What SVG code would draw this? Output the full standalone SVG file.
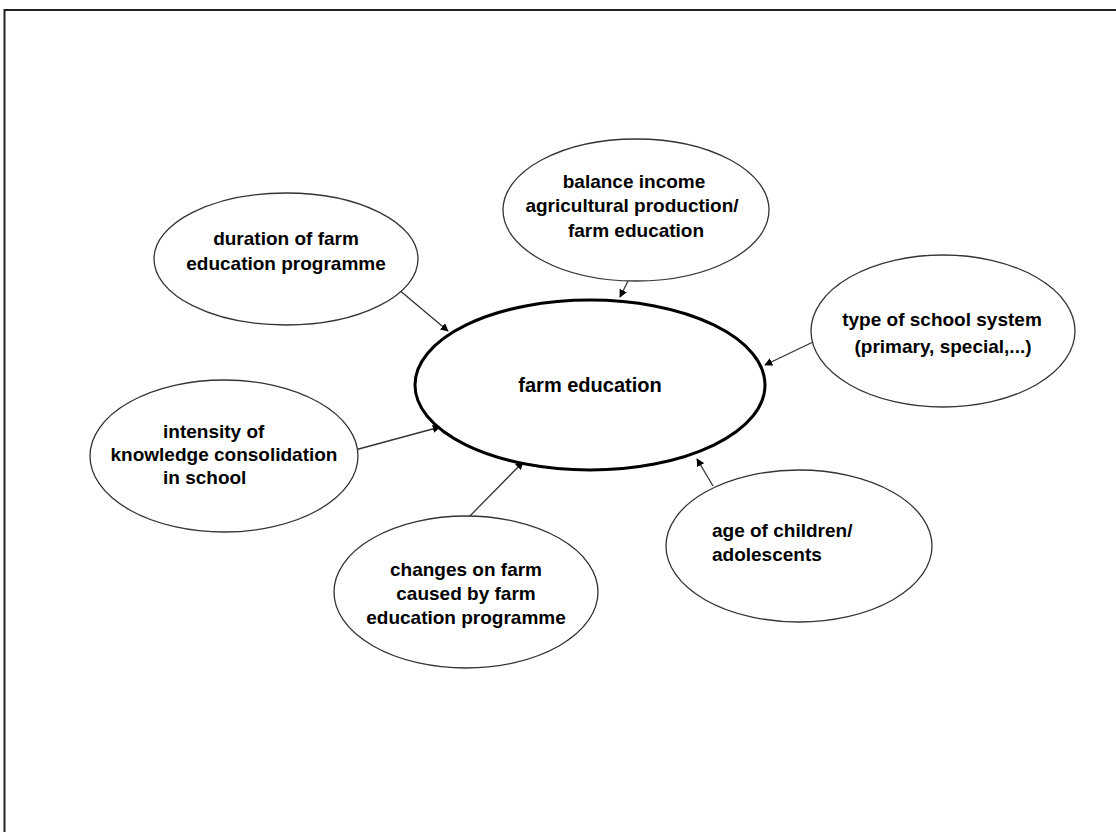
<svg xmlns="http://www.w3.org/2000/svg" width="1116" height="832" viewBox="0 0 1116 832">
<style>
.n{fill:#fff;stroke:#333;stroke-width:1.3}
.c{fill:#fff;stroke:#000;stroke-width:3}
text{font-family:"Liberation Sans",Arial,sans-serif;font-weight:bold;font-size:19px;fill:#000}
.m{text-anchor:middle}
.e{stroke:#333;stroke-width:1.3;fill:none;marker-end:url(#ah)}
</style>
<defs>
<marker id="ah" viewBox="0 0 10 10" refX="9" refY="5" markerWidth="8" markerHeight="8" markerUnits="userSpaceOnUse" orient="auto">
<path d="M0,0 L10,5 L0,10 z" fill="#000"/>
</marker>
</defs>
<rect x="0" y="0" width="1116" height="832" fill="#fff"/>
<path d="M4.5,832 V10 H1116" fill="none" stroke="#222" stroke-width="2"/>
<g id="connectors">
<line class="e" x1="398" y1="289" x2="448" y2="331"/>
<line class="e" x1="628" y1="281" x2="620" y2="297"/>
<line class="e" x1="813" y1="342" x2="765" y2="365"/>
<line class="e" x1="355" y1="450" x2="440" y2="427"/>
<line class="e" x1="467" y1="519" x2="523" y2="462"/>
<line class="e" x1="713" y1="486" x2="697" y2="459"/>
</g>
<g id="n-central">
<ellipse class="c" cx="590" cy="385" rx="175" ry="85"/>
<text class="m" x="590" y="392" style="font-size:20px">farm education</text>
</g>
<g id="n-duration">
<ellipse class="n" cx="286" cy="259" rx="132" ry="66"/>
<text class="m" x="286" y="245">duration of farm</text>
<text class="m" x="286" y="270">education programme</text>
</g>
<g id="n-balance">
<ellipse class="n" cx="636" cy="210" rx="133" ry="71"/>
<text class="m" x="634" y="188">balance income</text>
<text class="m" x="632" y="212">agricultural production/</text>
<text class="m" x="636" y="237">farm education</text>
</g>
<g id="n-type">
<ellipse class="n" cx="943" cy="331" rx="132" ry="76"/>
<text class="m" x="942" y="326">type of school system</text>
<text class="m" x="943" y="353">(primary, special,...)</text>
</g>
<g id="n-intensity">
<ellipse class="n" cx="224" cy="456" rx="134" ry="76"/>
<text x="163" y="438">intensity of</text>
<text class="m" x="224" y="461">knowledge consolidation</text>
<text x="163" y="484">in school</text>
</g>
<g id="n-changes">
<ellipse class="n" cx="466" cy="592" rx="132" ry="76"/>
<text class="m" x="466" y="576">changes on farm</text>
<text class="m" x="466" y="600">caused by farm</text>
<text class="m" x="466" y="624">education programme</text>
</g>
<g id="n-age">
<ellipse class="n" cx="799" cy="546" rx="133" ry="76"/>
<text x="712" y="537">age of children/</text>
<text x="712" y="561">adolescents</text>
</g>
</svg>
